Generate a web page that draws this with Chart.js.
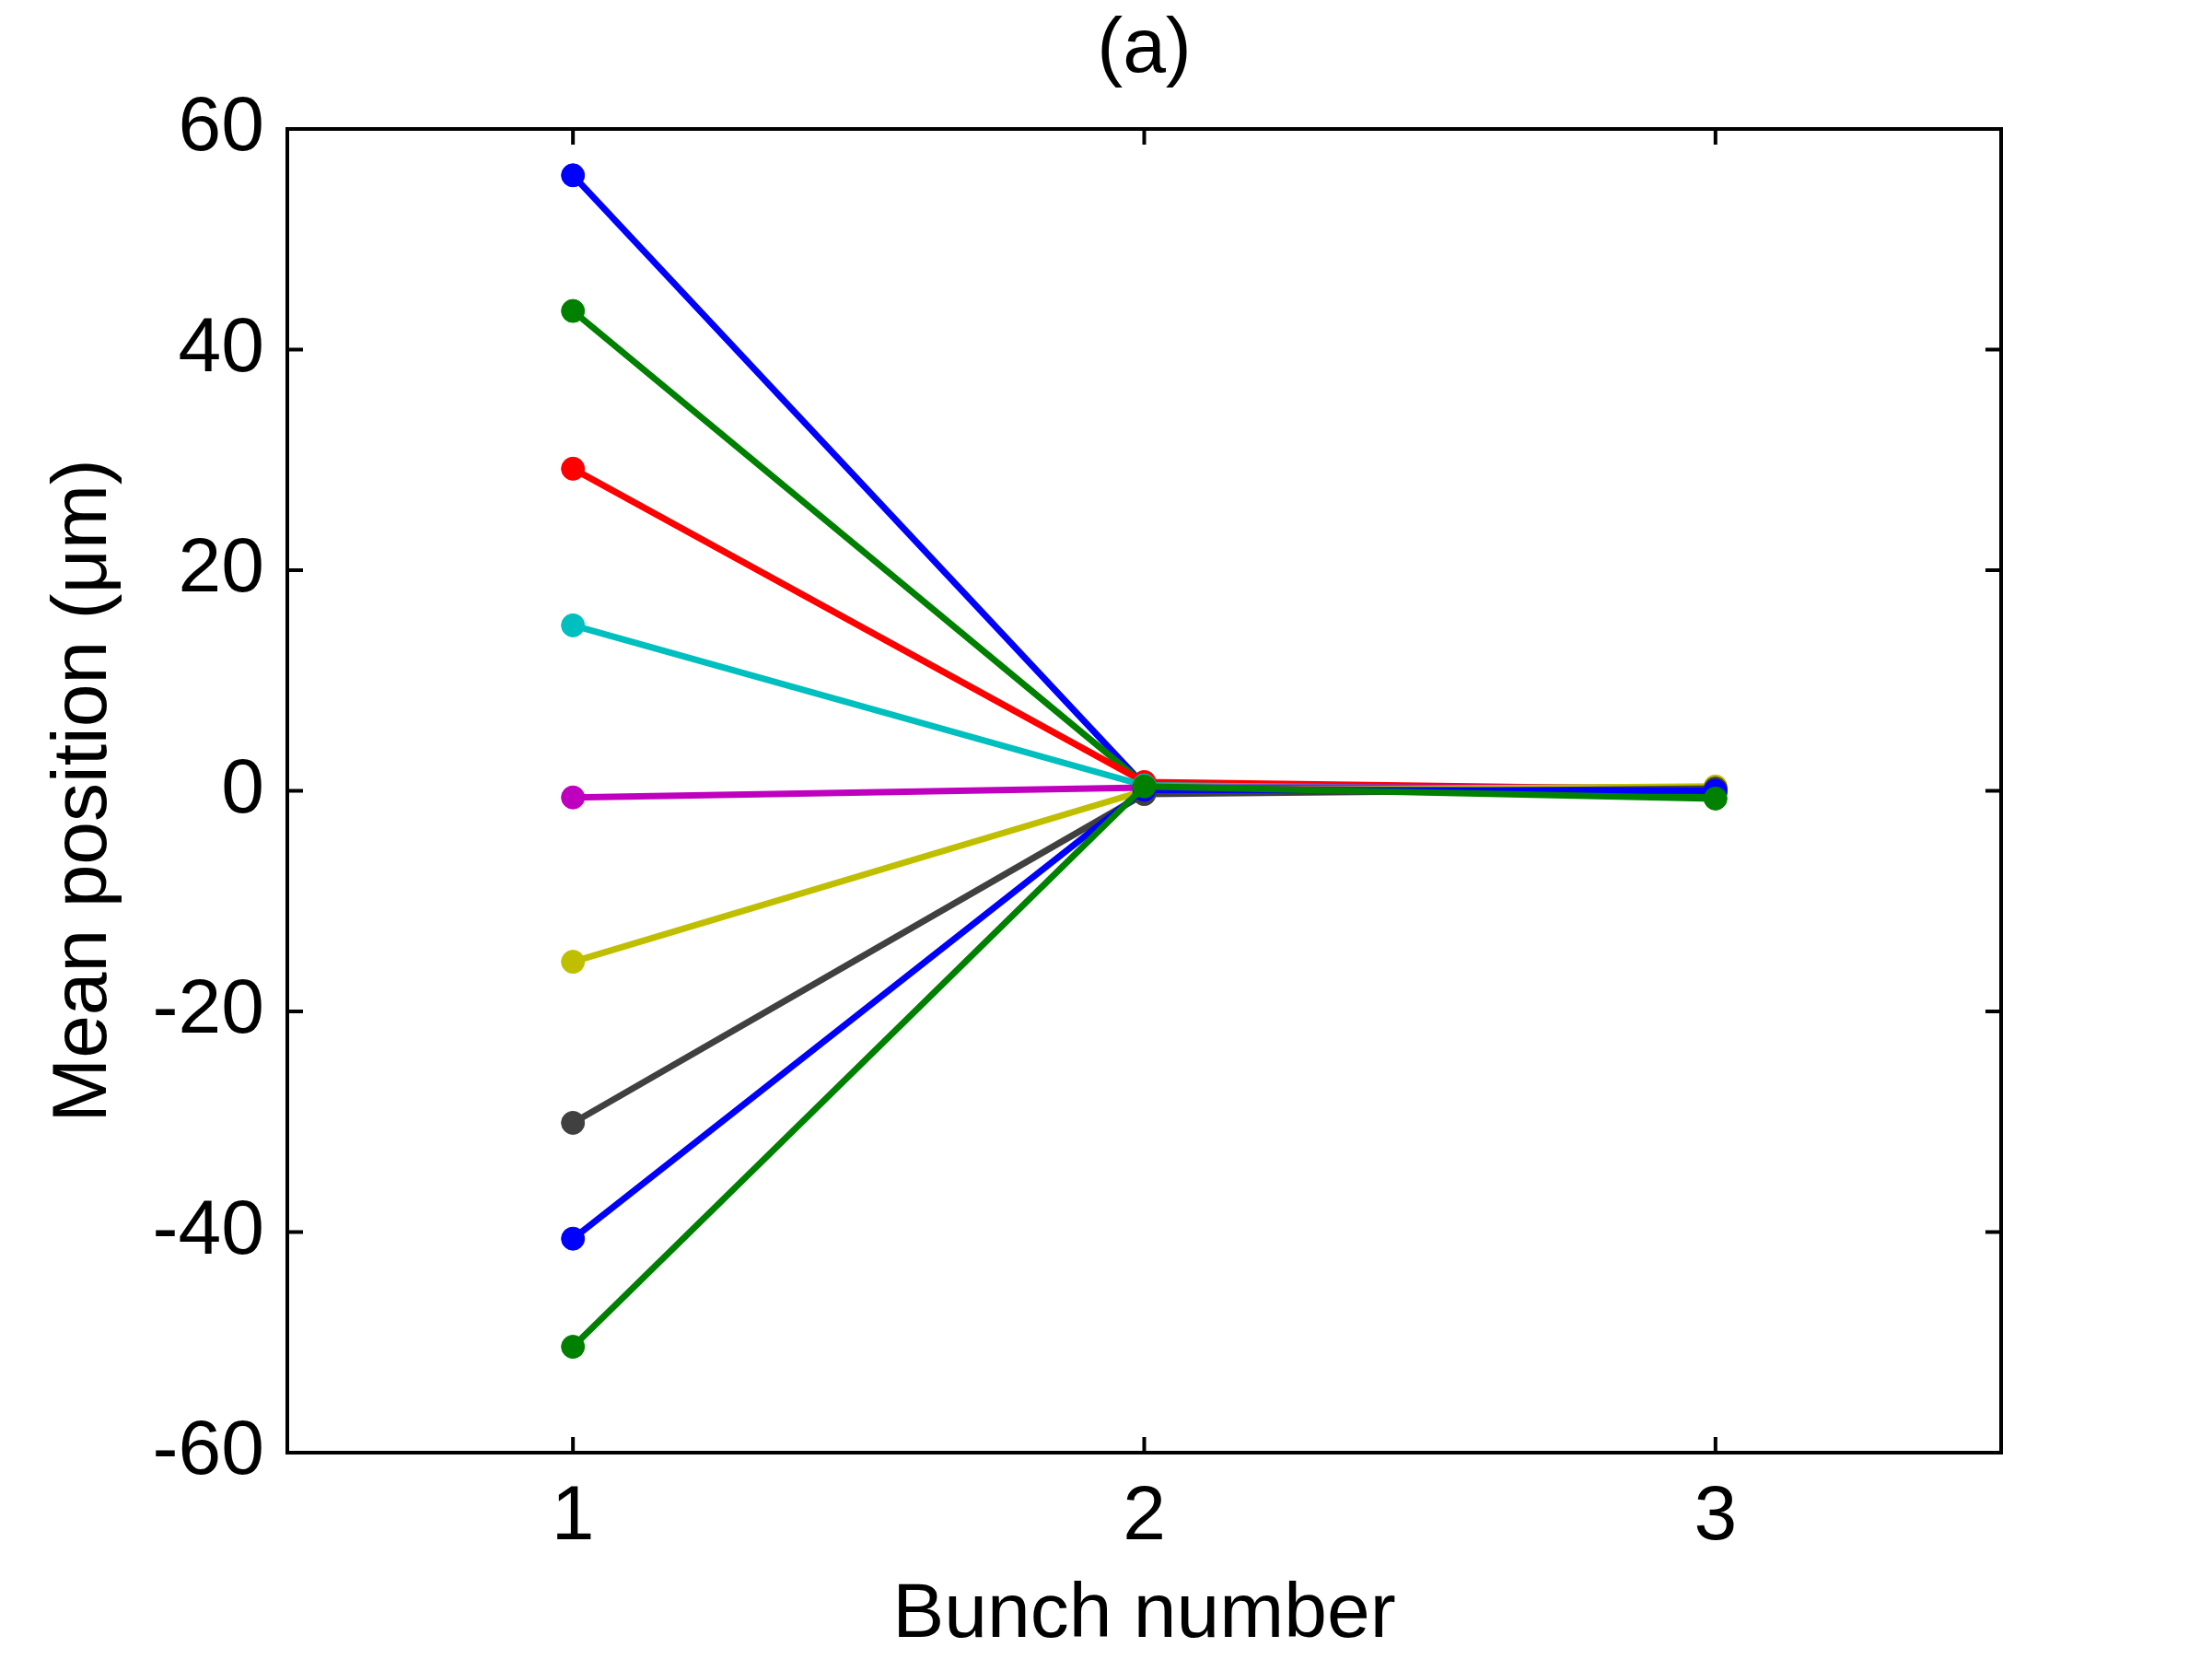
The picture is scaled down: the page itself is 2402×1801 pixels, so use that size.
<!DOCTYPE html>
<html>
<head>
<meta charset="utf-8">
<style>
  html, body { margin: 0; padding: 0; background: #fff; }
  canvas { display: block; }
</style>
<script src="https://cdn.jsdelivr.net/npm/chart.js@4/dist/chart.umd.min.js"></script>
</head>
<body>
<canvas id="chart" width="2402" height="1801"></canvas>
<script>
// bunch numbers on the x axis
const bunches = ['1', '2', '3'];
const yTicks = [-60, -40, -20, 0, 20, 40, 60];

// mean position per bunch, one list per trace
const blueTop = [55.8, 0.5, 0.0];
const greenTop = [43.5, 0.6, -0.2];
const red = [29.2, 0.8, 0.1];
const cyan = [15.0, 0.5, 0.0];
const magenta = [-0.6, 0.3, 0.3];
const yellow = [-15.5, 0.0, 0.4];
const gray = [-30.1, -0.3, 0.2];
const blueLow = [-40.6, 0.1, 0.0];
const greenLow = [-50.4, 0.4, -0.7];

const seriesList = [blueTop, greenTop, red, cyan, magenta, yellow, gray, blueLow, greenLow];
const colors = ['#0000ff', '#008000', '#ff0000', '#00bfbf', '#bf00bf', '#bfbf00', '#404040', '#0000ff', '#008000'];

const FONT = "'Liberation Sans', Arial, Helvetica, sans-serif";
const SIZE = 84;

// frame box + inward ticks on all four sides, like the original figure
const framePlugin = {
  id: 'frame',
  afterDatasetsDraw(chart) {
    const ctx = chart.ctx;
    const a = chart.chartArea;
    const xs = chart.scales.x;
    const ys = chart.scales.y;
    const len = 17;
    ctx.save();
    ctx.strokeStyle = '#000';
    ctx.lineWidth = 4;
    ctx.beginPath();
    ys.ticks.forEach(t => {
      const y = ys.getPixelForValue(t.value);
      ctx.moveTo(a.left, y); ctx.lineTo(a.left + len, y);
      ctx.moveTo(a.right, y); ctx.lineTo(a.right - len, y);
    });
    xs.ticks.forEach((t, i) => {
      const x = xs.getPixelForValue(i);
      ctx.moveTo(x, a.bottom); ctx.lineTo(x, a.bottom - len);
      ctx.moveTo(x, a.top); ctx.lineTo(x, a.top + len);
    });
    ctx.stroke();
    ctx.strokeRect(a.left, a.top, a.right - a.left, a.bottom - a.top);
    ctx.restore();
  }
};

// later traces sit on top, as in the original plot
const datasets = seriesList.map((vals, i) => ({
  data: vals,
  xAxisID: 'x',
  order: seriesList.length - i,
  borderColor: colors[i],
  backgroundColor: colors[i],
  borderWidth: 7,
  pointRadius: 12.5,
  pointBorderWidth: 1,
  pointBackgroundColor: colors[i],
  pointBorderColor: colors[i],
  tension: 0,
  clip: false
}));

new Chart(document.getElementById('chart').getContext('2d'), {
  type: 'line',
  data: { labels: bunches, datasets: datasets },
  plugins: [framePlugin],
  options: {
    responsive: false,
    animation: false,
    devicePixelRatio: 1,
    layout: { padding: { left: 0, right: 229, top: 0, bottom: 0 } },
    plugins: {
      legend: { display: false },
      tooltip: { enabled: false }
    },
    scales: {
      x: {
        type: 'category',
        position: 'bottom',
        offset: true,
        grid: { display: false, drawTicks: false },
        border: { display: false },
        ticks: {
          color: '#000',
          padding: 20,
          font: { family: FONT, size: SIZE, lineHeight: 1.2 }
        },
        title: {
          display: true,
          text: 'Bunch number',
          color: '#000',
          font: { family: FONT, size: SIZE, lineHeight: 1 },
          padding: { top: 0, bottom: 5 }
        },
        afterFit(scale) { scale.height = 224; }
      },
      // top axis only carries the panel title "(a)", centred over the plot box
      top: {
        type: 'category',
        position: 'top',
        offset: true,
        grid: { display: false, drawTicks: false },
        border: { display: false },
        ticks: { display: false },
        title: {
          display: true,
          text: '(a)',
          color: '#000',
          font: { family: FONT, size: SIZE, lineHeight: 1 },
          padding: { top: 13, bottom: 0 }
        },
        afterFit(scale) { scale.height = 140; }
      },
      y: {
        min: -60,
        max: 60,
        grid: { display: false, drawTicks: false },
        border: { display: false },
        afterBuildTicks(scale) { scale.ticks = yTicks.map(v => ({ value: v })); },
        ticks: {
          color: '#000',
          padding: 25,
          font: { family: FONT, size: SIZE, lineHeight: 1.2 }
        },
        title: {
          display: true,
          text: 'Mean position (μm)',
          color: '#000',
          font: { family: FONT, size: SIZE, lineHeight: 1 },
          padding: { top: 50, bottom: 0 }
        },
        afterFit(scale) { scale.width = 312; }
      }
    }
  }
});
</script>
</body>
</html>
